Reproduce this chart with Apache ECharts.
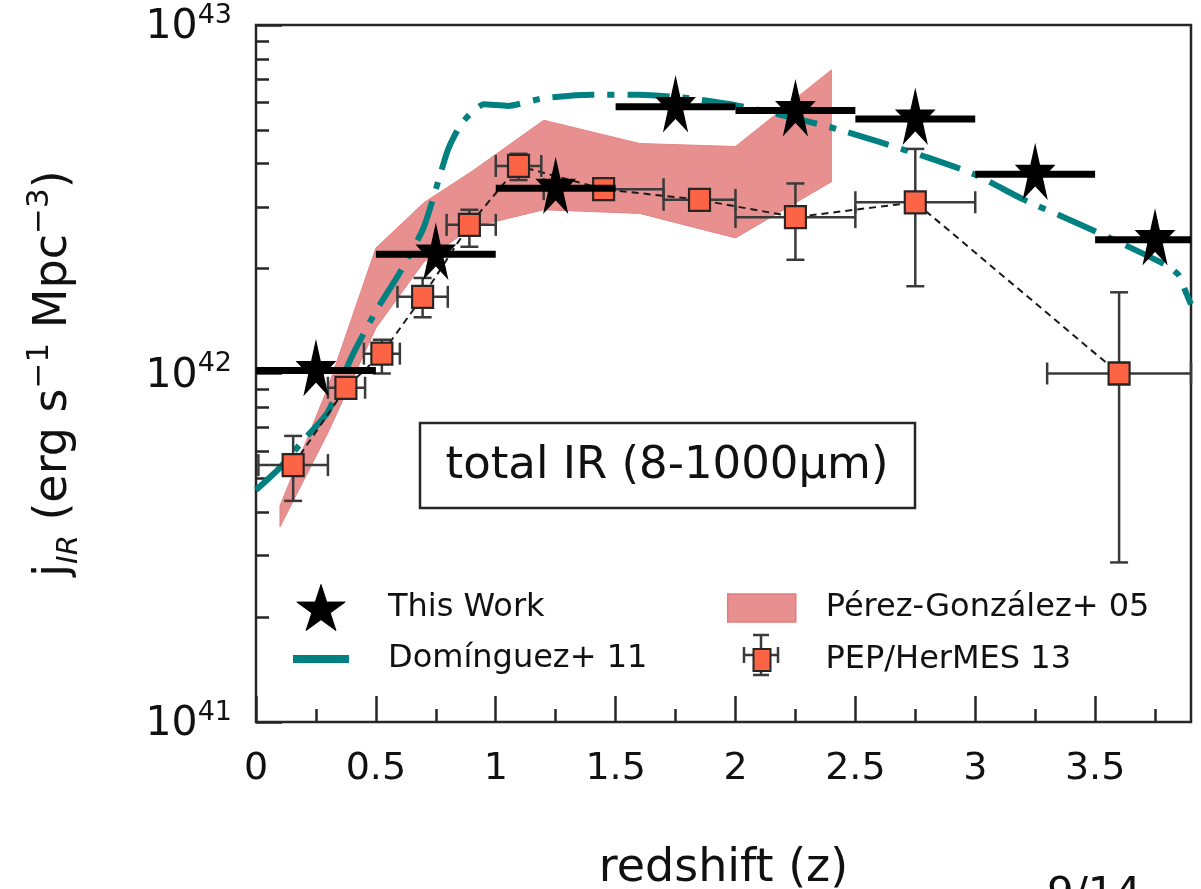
<!DOCTYPE html>
<html>
<head>
<meta charset="utf-8">
<script src="https://cdn.jsdelivr.net/npm/echarts@6/dist/echarts.min.js"></script>
<style>
  html, body { margin: 0; padding: 0; background: #fff; }
  #chart { width: 1201px; height: 889px; }
</style>
</head>
<body>
<div id="chart"></div>
<script>
// ---- This Work: IR luminosity density per redshift bin ----
const starZ   = [0.25, 0.75, 1.25, 1.75, 2.25, 2.75, 3.25, 3.75];
const starZLo = [0.0, 0.5, 1.0, 1.5, 2.0, 2.5, 3.0, 3.5];
const starZHi = [0.5, 1.0, 1.5, 2.0, 2.5, 3.0, 3.5, 4.0];
const starJ   = [1.02e42, 2.20e42, 3.40e42, 5.83e42, 5.68e42, 5.37e42, 3.73e42, 2.42e42];

// ---- PEP/HerMES 13 ----
const pepZ   = [0.155, 0.375, 0.525, 0.695, 0.89, 1.095, 1.45, 1.85, 2.25, 2.75, 3.6];
const pepZLo = [0.01, 0.30, 0.45, 0.59, 0.795, 1.00, 1.20, 1.70, 2.00, 2.50, 3.30];
const pepZHi = [0.30, 0.455, 0.60, 0.80, 1.00, 1.19, 1.70, 2.00, 2.50, 3.00, 3.90];
const pepJ   = [5.46e41, 9.1e41, 1.14e42, 1.66e42, 2.67e42, 3.94e42, 3.38e42, 3.15e42, 2.81e42, 3.10e42, 1.00e42];
const pepJLo = [4.31e41, 8.6e41, 1.00e42, 1.45e42, 2.31e42, 3.59e42, 3.22e42, 3.00e42, 2.12e42, 1.78e42, 2.87e41];
const pepJHi = [6.62e41, 9.6e41, 1.25e42, 1.88e42, 2.95e42, 4.27e42, 3.55e42, 3.30e42, 3.51e42, 4.41e42, 1.71e42];

// ---- Pérez-González+ 05 band ----
const pgZ     = [0.1, 0.3, 0.5, 0.7, 0.9, 1.2, 1.6, 2.0, 2.4];
const pgUpper = [4.17e41, 9.12e41, 2.29e42, 3.09e42, 3.80e42, 5.33e42, 4.57e42, 4.48e42, 7.43e42];
const pgLower = [3.63e41, 6.76e41, 1.35e42, 2.09e42, 2.63e42, 2.95e42, 2.88e42, 2.45e42, 3.55e42];

// ---- Domínguez+ 11 model ----
const domZ = [0, 0.1, 0.2, 0.3, 0.4, 0.5, 0.6, 0.7, 0.8, 0.85, 0.9, 0.95, 1.05, 1.2, 1.4, 1.6,
              1.8, 2.0, 2.2, 2.4, 2.6, 2.8, 3.0, 3.2, 3.4, 3.6, 3.8, 3.85, 3.88, 3.9];
const domJ = [4.63e41, 5.37e41, 6.46e41, 7.76e41, 1.12e42, 1.51e42, 1.95e42, 2.63e42, 4.37e42, 5.13e42,
              5.62e42, 5.92e42, 5.86e42, 6.17e42, 6.31e42, 6.31e42, 6.17e42, 5.89e42, 5.50e42, 5.08e42,
              4.62e42, 4.17e42, 3.72e42, 3.16e42, 2.75e42, 2.38e42, 2.04e42, 1.91e42, 1.70e42, 1.58e42];

// ---- axis ticks ----
const xMajorTicks = [0, 0.5, 1, 1.5, 2, 2.5, 3, 3.5];
const xMinorTicks = [0.25, 0.75, 1.25, 1.75, 2.25, 2.75, 3.25, 3.75];
const yMinorTicks = [2e41, 3e41, 4e41, 5e41, 6e41, 7e41, 8e41, 9e41, 2e42, 3e42, 4e42, 5e42, 6e42, 7e42, 8e42, 9e42];

const FONT = 'DejaVu Sans';
const TEAL = '#008080';
const BAND = '#e88f8f';
const SQUARE = '#fd6445';
const BAR_INK = '#3a3a3a';
const STAR = 'path://M100,0 L122.45,69.1 L195.1,69.1 L136.3,111.8 L158.8,180.9 L100,138.2 L41.2,180.9 L63.7,111.8 L4.9,69.1 L77.55,69.1 Z';
const LINE_ICON = 'path://M0,0 L56,0 L56,8 L0,8 Z';

const chart = echarts.init(document.getElementById('chart'), null, { renderer: 'canvas' });

function clampX(x, cs) { return Math.max(cs.x, Math.min(cs.x + cs.width, x)); }

const legendText = function (pad) {
  return { fontFamily: FONT, fontSize: 32, color: '#111', padding: [0, 0, 0, pad] };
};

const option = {
  animation: false,
  backgroundColor: '#fff',
  grid: {
    left: 256, right: 10, top: 25, bottom: 167,
    containLabel: false, outerBoundsMode: 'none',
    show: true, borderColor: '#262626', borderWidth: 2.5
  },
  xAxis: [
    {
      type: 'value', min: 0, max: 3.9, interval: 0.5,
      axisLine: { show: false },
      splitLine: { show: false },
      axisTick: { inside: true, length: 26, lineStyle: { color: '#262626', width: 2.5 }, customValues: xMajorTicks },
      axisLabel: { margin: 28, fontFamily: FONT, fontSize: 38, color: '#111', customValues: xMajorTicks },
      name: 'redshift (z)', nameLocation: 'middle', nameGap: 124,
      nameTextStyle: { fontFamily: FONT, fontSize: 46, color: '#111' }
    },
    {
      type: 'value', min: 0, max: 3.9, position: 'bottom',
      axisLine: { show: false }, splitLine: { show: false }, axisLabel: { show: false },
      axisTick: { inside: true, length: 13, lineStyle: { color: '#262626', width: 2.5 }, customValues: xMinorTicks }
    }
  ],
  yAxis: [
    {
      type: 'log', logBase: 10, min: 1e41, max: 1e43,
      axisLine: { show: false },
      splitLine: { show: false },
      axisTick: { inside: true, length: 26, lineStyle: { color: '#262626', width: 2.5 } },
      axisLabel: {
        margin: 24,
        formatter: function (v) { return '{b|10}{s|' + Math.round(Math.log10(v)) + '}'; },
        rich: {
          b: { fontFamily: FONT, fontSize: 41, color: '#111', lineHeight: 46, verticalAlign: 'bottom' },
          s: { fontFamily: FONT, fontSize: 27, color: '#111', lineHeight: 28, verticalAlign: 'top' }
        }
      },
      name: '{n|j}{sub|IR}{n| (erg s}{sup|−1}{n| Mpc}{sup|−3}{n|)}',
      nameLocation: 'middle', nameRotate: 90, nameGap: 172,
      nameTextStyle: {
        rich: {
          n: { fontFamily: FONT, fontSize: 46, color: '#111', lineHeight: 60, verticalAlign: 'middle' },
          sub: { fontFamily: FONT, fontSize: 29, fontStyle: 'italic', color: '#111', lineHeight: 36, verticalAlign: 'bottom' },
          sup: { fontFamily: FONT, fontSize: 31, color: '#111', lineHeight: 32, verticalAlign: 'top' }
        }
      }
    },
    {
      type: 'log', logBase: 10, min: 1e41, max: 1e43, position: 'left',
      axisLine: { show: false }, splitLine: { show: false }, axisLabel: { show: false },
      axisTick: { inside: true, length: 13, lineStyle: { color: '#262626', width: 2.5 }, customValues: yMinorTicks }
    }
  ],
  legend: [
    {
      orient: 'vertical', left: 293, top: 584, padding: 0, itemWidth: 56, itemHeight: 46, itemGap: 12,
      selectedMode: false, textStyle: legendText(34),
      data: [
        { name: 'This Work', icon: STAR, itemStyle: { color: '#000', borderColor: '#000', borderWidth: 1 } },
        { name: 'Domínguez+ 11', icon: LINE_ICON, itemStyle: { color: TEAL, borderWidth: 0 } }
      ]
    },
    {
      orient: 'vertical', left: 727, top: 592, padding: 0, itemWidth: 68, itemHeight: 28,
      selectedMode: false, textStyle: legendText(25),
      data: [
        { name: 'Pérez-González+ 05', icon: 'rect', itemStyle: { color: BAND, borderColor: '#e27d7d', borderWidth: 1.5 } }
      ]
    },
    {
      orient: 'vertical', left: 752.5, top: 644, padding: 0, itemWidth: 17, itemHeight: 22,
      selectedMode: false, textStyle: legendText(50),
      data: [
        { name: 'PEP/HerMES 13', icon: 'rect', itemStyle: { color: SQUARE, borderColor: '#262626', borderWidth: 2 } }
      ]
    }
  ],
  graphic: [
    // error-bar glyph behind the PEP/HerMES legend square
    {
      type: 'group', z: 3, children: [
        { type: 'line', shape: { x1: 761, y1: 635, x2: 761, y2: 675 }, style: { stroke: BAR_INK, lineWidth: 2.5 } },
        { type: 'line', shape: { x1: 753, y1: 635, x2: 769, y2: 635 }, style: { stroke: BAR_INK, lineWidth: 2.5 } },
        { type: 'line', shape: { x1: 753, y1: 675, x2: 769, y2: 675 }, style: { stroke: BAR_INK, lineWidth: 2.5 } },
        { type: 'line', shape: { x1: 744, y1: 655, x2: 778, y2: 655 }, style: { stroke: BAR_INK, lineWidth: 2.5 } },
        { type: 'line', shape: { x1: 744, y1: 647, x2: 744, y2: 663 }, style: { stroke: BAR_INK, lineWidth: 2.5 } },
        { type: 'line', shape: { x1: 778, y1: 647, x2: 778, y2: 663 }, style: { stroke: BAR_INK, lineWidth: 2.5 } }
      ]
    },
    // band annotation box
    {
      type: 'group', z: 20, children: [
        { type: 'rect', shape: { x: 420, y: 423, width: 495, height: 85 }, style: { fill: '#fff', stroke: '#262626', lineWidth: 2.5 } },
        { type: 'text', x: 667, y: 466, style: { text: 'total IR (8-1000µm)', font: '45px "DejaVu Sans"', align: 'center', verticalAlign: 'middle', fill: '#111' } }
      ]
    },
    // page number
    { type: 'text', x: 1047, y: 875, z: 20, style: { text: '9/14', font: '42px "DejaVu Sans"', align: 'left', verticalAlign: 'top', fill: '#111' } }
  ],
  series: [
    {
      name: 'Pérez-González+ 05', type: 'custom', z: 1,
      itemStyle: { color: BAND },
      encode: { x: 0, y: 1 },
      data: pgZ.map(function (z, i) { return [z, pgLower[i], pgUpper[i]]; }),
      renderItem: function (params, api) {
        if (params.dataIndex !== 0) return null;
        const pts = [];
        for (let i = 0; i < pgZ.length; i++) pts.push(api.coord([pgZ[i], pgUpper[i]]));
        for (let i = pgZ.length - 1; i >= 0; i--) pts.push(api.coord([pgZ[i], pgLower[i]]));
        return { type: 'polygon', shape: { points: pts }, style: { fill: BAND, stroke: '#e58585', lineWidth: 1 } };
      }
    },
    {
      name: 'Domínguez+ 11', type: 'line', z: 2,
      data: domZ.map(function (z, i) { return [z, domJ[i]]; }),
      symbol: 'none', showSymbol: false, smooth: 0.2,
      lineStyle: { color: TEAL, width: 6, type: [42, 13, 7, 13], cap: 'butt' },
      itemStyle: { color: TEAL }
    },
    {
      name: 'PEP/HerMES 13', type: 'scatter', z: 6,
      data: pepZ.map(function (z, i) { return [z, pepJ[i]]; }),
      symbol: 'rect', symbolSize: [21, 22],
      itemStyle: { color: SQUARE, borderColor: '#262626', borderWidth: 2.2, opacity: 1 }
    },
    {
      name: 'PEP/HerMES 13', type: 'line', z: 3,
      data: pepZ.map(function (z, i) { return [z, pepJ[i]]; }),
      symbol: 'none', showSymbol: false,
      lineStyle: { color: '#1a1a1a', width: 2, type: [7, 5] }
    },
    {
      name: 'PEP/HerMES 13', type: 'custom', z: 5,
      encode: { x: 0, y: 1 },
      data: pepZ.map(function (z, i) { return [z, pepJ[i], pepZLo[i], pepZHi[i], pepJLo[i], pepJHi[i]]; }),
      renderItem: function (params, api) {
        const cs = params.coordSys;
        const z = api.value(0), j = api.value(1);
        const c = api.coord([z, j]);
        const l = clampX(api.coord([api.value(2), j])[0], cs);
        const r = clampX(api.coord([api.value(3), j])[0], cs);
        const lo = api.coord([z, api.value(4)])[1];
        const hi = api.coord([z, api.value(5)])[1];
        const st = { stroke: BAR_INK, lineWidth: 2.5, fill: null };
        const cw = 9, ch = 11;
        return {
          type: 'group', children: [
            { type: 'line', shape: { x1: l, y1: c[1], x2: r, y2: c[1] }, style: st },
            { type: 'line', shape: { x1: c[0], y1: lo, x2: c[0], y2: hi }, style: st },
            { type: 'line', shape: { x1: c[0] - cw, y1: lo, x2: c[0] + cw, y2: lo }, style: st },
            { type: 'line', shape: { x1: c[0] - cw, y1: hi, x2: c[0] + cw, y2: hi }, style: st },
            { type: 'line', shape: { x1: l, y1: c[1] - ch, x2: l, y2: c[1] + ch }, style: st },
            { type: 'line', shape: { x1: r, y1: c[1] - ch, x2: r, y2: c[1] + ch }, style: st }
          ]
        };
      }
    },
    {
      name: 'This Work', type: 'scatter', z: 8,
      data: starZ.map(function (z, i) { return [z, starJ[i]]; }),
      symbol: STAR, symbolSize: [37, 52], symbolOffset: [0, '-5%'],
      itemStyle: { color: '#000', borderColor: '#000', borderWidth: 1.5, opacity: 1 }
    },
    {
      name: 'This Work', type: 'custom', z: 7,
      encode: { x: 0, y: 1 },
      data: starZ.map(function (z, i) { return [z, starJ[i], starZLo[i], starZHi[i]]; }),
      renderItem: function (params, api) {
        const cs = params.coordSys;
        const y = api.coord([api.value(0), api.value(1)])[1];
        const x1 = clampX(api.coord([api.value(2), api.value(1)])[0], cs);
        const x2 = clampX(api.coord([api.value(3), api.value(1)])[0], cs);
        return { type: 'rect', shape: { x: x1, y: y - 3.5, width: x2 - x1, height: 7 }, style: { fill: '#000' } };
      }
    }
  ]
};

chart.setOption(option);
</script>
</body>
</html>
